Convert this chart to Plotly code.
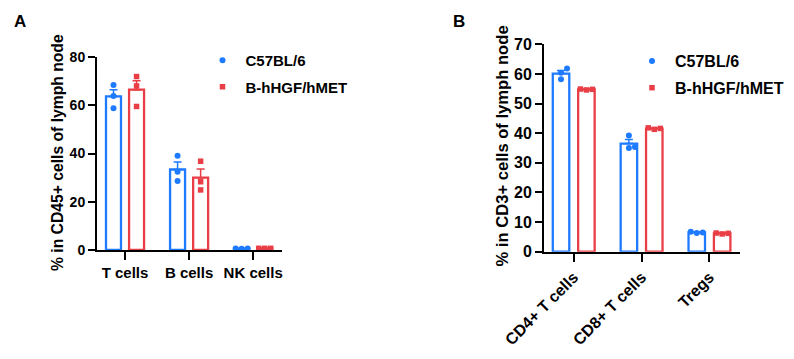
import numpy as np
import plotly.graph_objects as go

# ---------------- data ----------------
groups = ["C57BL/6", "B-hHGF/hMET"]

cats_a = ["T cells", "B cells", "NK cells"]
a_c57 = [[68.4, 63.8, 58.8], [39.1, 32.4, 28.6], [0.5, 0.6, 0.6]]
a_hgf = [[71.9, 68.0, 59.5], [36.8, 28.3, 24.9], [0.7, 0.7, 0.7]]
ticks_a = [0, 20, 40, 60, 80]

cats_b = ["CD4+ T cells", "CD8+ T cells", "Tregs"]
b_c57 = [[58.2, 60.4, 61.8], [35.0, 35.3, 39.2], [6.3, 6.5, 6.7]]
b_hgf = [[54.6, 54.8, 54.9], [41.3, 41.6, 41.8], [6.0, 6.2, 6.3]]
ticks_b = [0, 10, 20, 30, 40, 50, 60, 70]

title_a = "% in CD45+ cells of lymph node"
title_b = "% in CD3+ cells of lymph node"

# ---------------- style ----------------
W, H = 794, 359
OFF = 8  # page body margin in the browser
BLUE = "rgb(30,122,255)"
RED = "rgb(234,62,70)"
FONT = "Arial, Liberation Sans, sans-serif"

# screen-pixel layout of each panel (left, right, top(y=max), bottom(y=0))
panels = {
    "a": dict(l=97, r=282, top=57, bot=250, ymax=80, xmin=-0.4375, xmax=2.45,
              bw=0.234, off=0.18, fx=15, fy=14),
    "b": dict(l=544, r=740, top=44.3, bot=251.7, ymax=70, xmin=-0.438, xmax=2.45,
              bw=0.243, off=0.187, fx=16, fy=16),
}


def px(x):
    return (x - OFF) / W


def py(y):
    return 1 - (y - OFF) / H


def swarm(vals, ppu, ppx, size=6.0):
    """Spread overlapping points horizontally (like GraphPad scatter)."""
    order = np.argsort(vals)
    placed = []
    offs = [0.0] * len(vals)
    for i in order:
        y = vals[i] * ppu
        for c in [0, 1, -1, 2, -2]:
            x = c * size
            if all(np.hypot(x - a, y - b) >= size for a, b in placed):
                break
        placed.append((x, y))
        offs[i] = x / ppx
    return offs


fig = go.Figure()


def add_panel(key, cats, series, xa, ya, legend):
    p = panels[key]
    ppu = (p["bot"] - p["top"]) / p["ymax"]
    ppx = (p["r"] - p["l"]) / (p["xmax"] - p["xmin"])
    colors = [BLUE, RED]
    symbols = ["circle", "square"]
    sizes = [6, 5.5]
    for gi, (name, data) in enumerate(zip(groups, series)):
        sign = -1 if gi == 0 else 1
        xs = [ci + sign * p["off"] for ci in range(len(cats))]
        means = [float(np.mean(v)) for v in data]
        sems = [float(np.std(v, ddof=1) / np.sqrt(len(v))) for v in data]
        fig.add_trace(go.Bar(
            x=xs, y=means, width=p["bw"], xaxis=xa, yaxis=ya,
            marker=dict(color="white", line=dict(color=colors[gi], width=2.3)),
            error_y=dict(type="data", symmetric=False, array=sems,
                         arrayminus=[0] * len(sems), color=colors[gi],
                         thickness=1.5, width=4),
            showlegend=False, hoverinfo="skip"))
    for gi, (name, data) in enumerate(zip(groups, series)):
        sign = -1 if gi == 0 else 1
        xs_, ys_ = [], []
        for ci, v in enumerate(data):
            offs = swarm(v, ppu, ppx)
            for val, o in zip(v, offs):
                xs_.append(ci + sign * p["off"] + o)
                ys_.append(val)
        fig.add_trace(go.Scatter(
            x=xs_, y=ys_, mode="markers", name=name, xaxis=xa, yaxis=ya,
            marker=dict(color=colors[gi], symbol=symbols[gi], size=sizes[gi]),
            cliponaxis=False, legend=legend, legendgroup=key + str(gi)))


add_panel("a", cats_a, [a_c57, a_hgf], "x", "y", "legend")
add_panel("b", cats_b, [b_c57, b_hgf], "x2", "y2", "legend2")


def xdom(p):
    return [px(p["l"]), px(p["r"])]


def ydom(p):
    return [py(p["bot"]), py(p["top"])]


def axis(p, which, **kw):
    size = p["fx"] if which == "x" else p["fy"]
    return dict(showline=True, linecolor="black", linewidth=2, ticks="outside",
                tickcolor="black", tickwidth=2, showgrid=False, zeroline=False,
                automargin=False,
                tickfont=dict(family=FONT, size=size, color="black", weight="bold"),
                **kw)


pa, pb = panels["a"], panels["b"]


def legend_at(x, y, size, gap):
    return dict(x=px(x), y=py(y), xanchor="left", yanchor="top",
                bgcolor="rgba(0,0,0,0)", itemwidth=36,
                font=dict(family=FONT, size=size, color="black", weight="bold"),
                traceorder="grouped", tracegroupgap=gap)


def label(text, x, y, size, angle=0):
    return dict(text="<b>" + text + "</b>", x=px(x), y=py(y), xref="paper",
                yref="paper", xanchor="center", yanchor="middle", textangle=angle,
                showarrow=False, font=dict(family=FONT, size=size, color="black"))


fig.update_layout(
    width=W, height=H, autosize=False,
    margin=dict(l=0, r=0, t=0, b=0, pad=0, autoexpand=False),
    paper_bgcolor="white", plot_bgcolor="white", barmode="overlay",
    xaxis=axis(pa, "x", domain=xdom(pa), range=[pa["xmin"], pa["xmax"]],
               tickvals=[0, 1, 2], ticktext=cats_a, ticklen=8, anchor="y"),
    yaxis=axis(pa, "y", domain=ydom(pa), range=[0, pa["ymax"]], tickvals=ticks_a,
               ticklen=7, anchor="x"),
    xaxis2=axis(pb, "x", domain=xdom(pb), range=[pb["xmin"], pb["xmax"]],
                tickvals=[0, 1, 2], ticktext=cats_b, ticklen=8, tickangle=-45,
                anchor="y2"),
    yaxis2=axis(pb, "y", domain=ydom(pb), range=[0, pb["ymax"]], tickvals=ticks_b,
                ticklen=7, anchor="x2"),
    legend=legend_at(199.5, 44, 15, 4),
    legend2=legend_at(629, 44, 16, 3),
    annotations=[
        label("A", 19.5, 22, 17),
        label("B", 459, 21, 17),
        label(title_a, 57.5, 152.5, 15.7, -90),
        label(title_b, 502, 146.5, 16.6, -90),
    ],
)

fig.write_html("out.html")
